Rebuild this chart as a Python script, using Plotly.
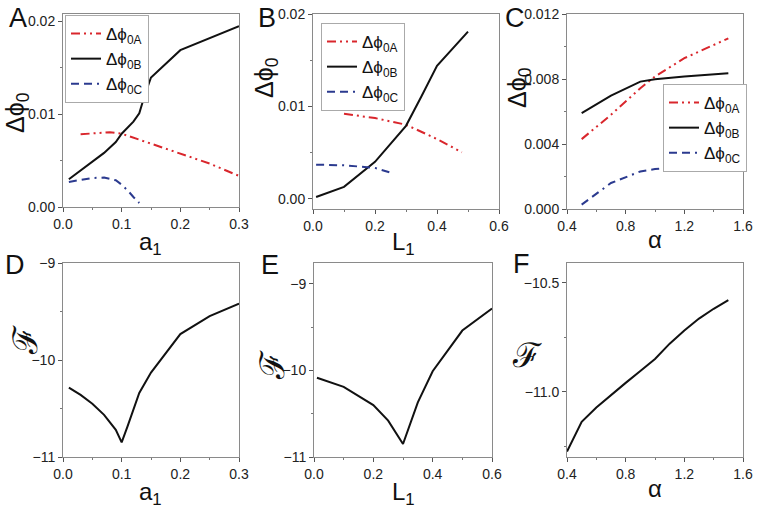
import plotly.graph_objects as go
from plotly.subplots import make_subplots

# ---------------- data ----------------
# Panel A: vs a1
a_red_x = [0.03, 0.05, 0.08, 0.10, 0.15, 0.20, 0.25, 0.30]
a_red_y = [0.00784, 0.00795, 0.00806, 0.0079, 0.00683, 0.00583, 0.00468, 0.00335]
a_blk_x = [0.01, 0.03, 0.05, 0.07, 0.09, 0.10, 0.12, 0.13, 0.14, 0.15, 0.20, 0.25, 0.30]
a_blk_y = [0.00299, 0.00396, 0.00486, 0.00583, 0.0070, 0.0079, 0.0092, 0.0101, 0.0122, 0.01396, 0.0169, 0.01817, 0.0195]
a_blu_x = [0.01, 0.03, 0.05, 0.07, 0.09, 0.10, 0.11, 0.12, 0.13]
a_blu_y = [0.0027, 0.00295, 0.00313, 0.00317, 0.00288, 0.0024, 0.0018, 0.00108, 0.00043]

# Panel B: vs L1
b_red_x = [0.10, 0.20, 0.30, 0.40, 0.48]
b_red_y = [0.0092, 0.00874, 0.00802, 0.00647, 0.00504]
b_blk_x = [0.01, 0.10, 0.20, 0.30, 0.35, 0.40, 0.50]
b_blk_y = [0.0002, 0.0013, 0.0040, 0.0079, 0.0111, 0.0144, 0.0181]
b_blu_x = [0.01, 0.10, 0.20, 0.26]
b_blu_y = [0.0037, 0.00363, 0.00335, 0.00273]

# Panel C: vs alpha
c_red_x = [0.5, 0.7, 0.9, 1.0, 1.2, 1.5]
c_red_y = [0.0043, 0.0058, 0.00743, 0.00815, 0.00928, 0.0105]
c_blk_x = [0.5, 0.7, 0.9, 1.0, 1.2, 1.5]
c_blk_y = [0.0059, 0.00698, 0.00784, 0.00799, 0.00815, 0.00836]
c_blu_x = [0.5, 0.7, 0.9, 1.0, 1.1, 1.2, 1.5]
c_blu_y = [0.00027, 0.0016, 0.00231, 0.00246, 0.00252, 0.00248, 0.00238]

# Panel D: F vs a1
d_x = [0.01, 0.03, 0.05, 0.07, 0.09, 0.10, 0.11, 0.13, 0.15, 0.20, 0.25, 0.30]
d_y = [-10.284, -10.36, -10.45, -10.565, -10.72, -10.85, -10.685, -10.34, -10.13, -9.733, -9.548, -9.418]

# Panel E: F vs L1
e_x = [0.01, 0.10, 0.20, 0.25, 0.30, 0.35, 0.40, 0.50, 0.60]
e_y = [-10.085, -10.19, -10.40, -10.58, -10.85, -10.37, -10.01, -9.54, -9.285]

# Panel F: F vs alpha
f_x = [0.4, 0.5, 0.6, 0.7, 0.8, 0.9, 1.0, 1.1, 1.2, 1.3, 1.4, 1.5]
f_y = [-11.275, -11.139, -11.073, -11.015, -10.96, -10.905, -10.85, -10.78, -10.72, -10.665, -10.62, -10.58]

names = ["Δϕ<sub>0A</sub>", "Δϕ<sub>0B</sub>", "Δϕ<sub>0C</sub>"]
panel_letters = ["A", "B", "C", "D", "E", "F"]

# ---------------- styling ----------------
W, H = 757, 518
RED = "#d9262c"
BLK = "#111111"
BLU = "#2b3a8f"
RED_DASH = "9px,4px,2px,4px,2px,4px"
BLU_DASH = "8px,5px,8px,5px,2px,5px"
FONT = "Liberation Sans, Arial, sans-serif"

# pixel boxes of plot areas: (left, right, top, bottom)
boxes = [
    (63, 239, 14, 207),
    (313, 499, 14, 209),
    (567, 743, 14, 209),
    (63, 239, 263, 457),
    (314, 492, 263, 457),
    (567, 743, 263, 457),
]

fig = make_subplots(rows=2, cols=3)

def add_three(row, col, xs, ys, legend):
    styles = [(RED, RED_DASH), (BLK, "solid"), (BLU, BLU_DASH)]
    for (x, y), name, (c, d) in zip(zip(xs, ys), names, styles):
        fig.add_trace(go.Scatter(x=x, y=y, mode="lines", name=name,
                                 line=dict(color=c, width=2, dash=d),
                                 legend=legend, showlegend=True),
                      row=row, col=col)

add_three(1, 1, [a_red_x, a_blk_x, a_blu_x], [a_red_y, a_blk_y, a_blu_y], "legend")
add_three(1, 2, [b_red_x, b_blk_x, b_blu_x], [b_red_y, b_blk_y, b_blu_y], "legend2")
add_three(1, 3, [c_red_x, c_blk_x, c_blu_x], [c_red_y, c_blk_y, c_blu_y], "legend3")
for (x, y), col in zip([(d_x, d_y), (e_x, e_y), (f_x, f_y)], [1, 2, 3]):
    fig.add_trace(go.Scatter(x=x, y=y, mode="lines", showlegend=False,
                             line=dict(color=BLK, width=2)), row=2, col=col)

xcfg = [
    dict(range=[0, 0.3], dtick=0.1, tickformat=".1f", minor_dtick=0.05),
    dict(range=[0, 0.6], dtick=0.2, tickformat=".1f", minor_dtick=0.1),
    dict(range=[0.4, 1.6], dtick=0.4, tickformat=".1f", minor_dtick=0.2),
    dict(range=[0, 0.3], dtick=0.1, tickformat=".1f", minor_dtick=0.05),
    dict(range=[0, 0.6], dtick=0.2, tickformat=".1f", minor_dtick=0.1),
    dict(range=[0.4, 1.6], dtick=0.4, tickformat=".1f", minor_dtick=0.2),
]
ycfg = [
    dict(range=[0, 0.0208], dtick=0.01, tickformat=".2f", minor_dtick=0.005),
    dict(range=[-0.0011, 0.02], dtick=0.01, tickformat=".2f", minor_dtick=0.005),
    dict(range=[0, 0.012], dtick=0.004, tickformat=".3f", minor_dtick=0.002),
    dict(range=[-11, -9], dtick=1, tickformat="d", minor_dtick=0.5),
    dict(range=[-11, -8.76], dtick=1, tickformat="d", minor_dtick=0.5),
    dict(range=[-11.3, -10.41], dtick=0.5, tickformat=".1f", minor_dtick=0.25),
]

for i, (l, r, t, b) in enumerate(boxes):
    sfx = "" if i == 0 else str(i + 1)
    common = dict(showline=True, mirror=True, linecolor="#8a8a8a", linewidth=1,
                  showgrid=False, zeroline=False, ticks="outside", ticklen=4,
                  tickcolor="#555555", tickfont=dict(size=14, family=FONT, color="#222"),
                  automargin=False)
    xc = xcfg[i]
    yc = ycfg[i]
    fig.layout["xaxis" + sfx].update(domain=[l / W, r / W], range=xc["range"], dtick=xc["dtick"],
                                     tickformat=xc["tickformat"],
                                     minor=dict(dtick=xc["minor_dtick"], ticks="outside", ticklen=2, tickcolor="#777"),
                                     **common)
    fig.layout["yaxis" + sfx].update(domain=[1 - b / H, 1 - t / H], range=yc["range"], dtick=yc["dtick"],
                                     tickformat=yc["tickformat"],
                                     minor=dict(dtick=yc["minor_dtick"], ticks="outside", ticklen=2, tickcolor="#777"),
                                     **common)
fig.update_yaxes(ticklabelstandoff=0)
fig.update_xaxes(ticklabelstandoff=0)

ann = []
def text(x, y, s, size, angle=0, family=FONT):
    ann.append(dict(x=x / W, y=1 - y / H, xref="paper", yref="paper", text=s, showarrow=False,
                    textangle=angle, xanchor="center", yanchor="middle",
                    font=dict(size=size, family=family, color="#111")))

# panel letters
for s, (x, y) in zip(panel_letters, [(18, 18), (267, 18), (515, 18), (15, 265), (270, 265), (521, 264)]):
    text(x, y, s, 27)
# y titles
text(17, 113, "Δϕ<sub>0</sub>", 25, -90)
text(266, 78, "Δϕ<sub>0</sub>", 25, -90)
text(519, 88, "Δϕ<sub>0</sub>", 25, -90)
SCRIPT = "DejaVu Serif, serif"
text(25, 340, "ℱ", 34, -90, SCRIPT)
text(272, 365, "ℱ", 34, -90, SCRIPT)
text(527, 355, "ℱ", 34, 0, SCRIPT)
# x titles
text(150, 243, "a<sub>1</sub>", 24)
text(403, 243, "L<sub>1</sub>", 24)
text(655, 240, "α", 24)
text(150, 493, "a<sub>1</sub>", 24)
text(403, 493, "L<sub>1</sub>", 24)
text(655, 488, "α", 24)

legend_common = dict(bgcolor="white", bordercolor="#aaaaaa", borderwidth=1,
                     font=dict(size=17, family=FONT, color="#111"), xanchor="left", yanchor="top",
                     tracegroupgap=0, itemwidth=30)
fig.update_layout(
    width=W, height=H, margin=dict(l=0, r=0, t=0, b=0, pad=0, autoexpand=False),
    paper_bgcolor="white", plot_bgcolor="white",
    annotations=ann,
    legend=dict(x=65 / W, y=1 - 15 / H, **legend_common),
    legend2=dict(x=321 / W, y=1 - 23 / H, **legend_common),
    legend3=dict(x=663 / W, y=1 - 84 / H, **legend_common),
)

fig.write_html("out.html", config={"displayModeBar": False},
               post_script="document.body.style.margin='0';document.body.style.overflow='hidden';")
